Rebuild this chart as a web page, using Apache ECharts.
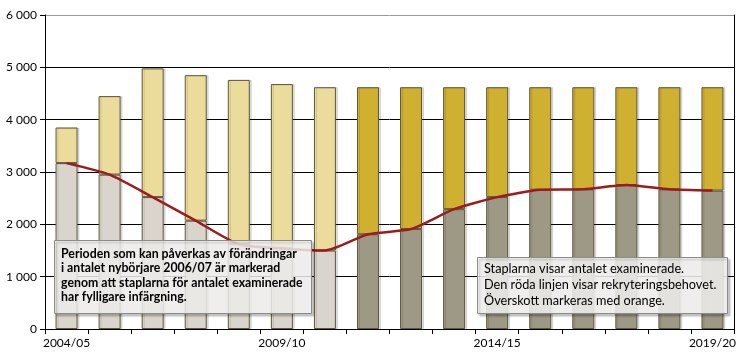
<!DOCTYPE html>
<html><head><meta charset="utf-8">
<script src="https://cdn.jsdelivr.net/npm/echarts@6/dist/echarts.min.js"></script>
<style>html,body{margin:0;padding:0;background:#fff}#c{width:745px;height:355px}</style>
</head><body><div id="c"></div>
<script>
const categories = ['2004/05','2005/06','2006/07','2007/08','2008/09','2009/10','2010/11','2011/12','2012/13','2013/14','2014/15','2015/16','2016/17','2017/18','2018/19','2019/20'];
const examined = [3850,4450,4980,4850,4760,4680,4620,4620,4620,4620,4620,4620,4620,4620,4620,4620];
const need = [3170,2950,2520,2070,1620,1540,1500,1810,1910,2290,2520,2660,2670,2750,2670,2645];
const yTicks = [0,1000,2000,3000,4000,5000,6000];
const nLight = 7;

const base = examined.map((v,i)=>Math.min(v,need[i]));
const surplus = examined.map((v,i)=>v-base[i]);
const FONT = 'Lato';

const chart = echarts.init(document.getElementById('c'), null, {renderer:'canvas'});
chart.setOption({
  animation:false,
  backgroundColor:'#fff',
  textStyle:{fontFamily:FONT},
  grid:{left:45,right:11,top:15,bottom:26,containLabel:false},
  xAxis:{type:'category',data:categories,boundaryGap:true,
    axisLine:{lineStyle:{color:'#000',width:1}},
    axisTick:{show:true,interval:0,length:5,lineStyle:{color:'#000'}},
    axisLabel:{interval:4,color:'#000',fontSize:12,fontFamily:FONT,margin:8}},
  yAxis:[{type:'value',min:yTicks[0],max:yTicks[yTicks.length-1],interval:1000,
    axisLine:{show:true,lineStyle:{color:'#000'}},
    axisTick:{show:true,length:5,lineStyle:{color:'#000'}},
    axisLabel:{color:'#000',fontSize:12,fontFamily:FONT,margin:8,
      formatter:v=>String(v).replace(/\B(?=(\d{3})+(?!\d))/g,' ')},
    splitLine:{show:true,lineStyle:{color:['#000','#000','#000','#000','#000','#000','#999'],width:1}}},
   {type:'value',min:0,max:6000,interval:1000,position:'right',
    axisLine:{show:true,lineStyle:{color:'#000'}},axisTick:{show:false},axisLabel:{show:false},splitLine:{show:false}}],
  series:[
    {type:'bar',stack:'a',data:base,barWidth:22,
      itemStyle:{color:p=>p.dataIndex<nLight?'#d9d5cd':'#9d9985',borderColor:'#5f5638',borderWidth:1,
        shadowColor:'rgba(0,0,0,0.12)',shadowOffsetX:2,shadowBlur:0}},
    {type:'bar',stack:'a',data:surplus,barWidth:22,
      itemStyle:{color:p=>p.dataIndex<nLight?'#ecdc9b':'#cfb030',borderColor:'#5f5638',borderWidth:1,
        shadowColor:'rgba(0,0,0,0.12)',shadowOffsetX:2,shadowBlur:0}},
    {type:'line',data:need,smooth:0.2,symbol:'none',z:5,
      lineStyle:{color:'#9b1c20',width:2.5}}
  ],
  graphic:[
    {type:'rect',left:54,top:240,z:100,shape:{width:257,height:73},
      style:{fill:'rgba(246,245,243,0.82)',stroke:'#8a8a8a',lineWidth:1,shadowColor:'rgba(0,0,0,0.25)',shadowOffsetX:2,shadowOffsetY:2,shadowBlur:2}},
    {type:'text',left:61,top:247,z:101,style:{text:'Perioden som kan påverkas av förändringar\ni antalet nybörjare 2006/07 är markerad\ngenom att staplarna för antalet examinerade\nhar fylligare infärgning.',
        font:'bold 12.3px '+FONT,fill:'#000',lineHeight:14.3}},
    {type:'rect',left:477,top:257,z:100,shape:{width:250,height:56},
      style:{fill:'rgba(246,245,243,0.85)',stroke:'#8a8a8a',lineWidth:1,shadowColor:'rgba(0,0,0,0.25)',shadowOffsetX:2,shadowOffsetY:2,shadowBlur:2}},
    {type:'text',left:484,top:261,z:101,style:{text:'Staplarna visar antalet examinerade.\nDen röda linjen visar rekryteringsbehovet.\nÖverskott markeras med orange.',
        font:'12.7px '+FONT,fill:'#000',lineHeight:16}}
  ]
});
</script></body></html>
